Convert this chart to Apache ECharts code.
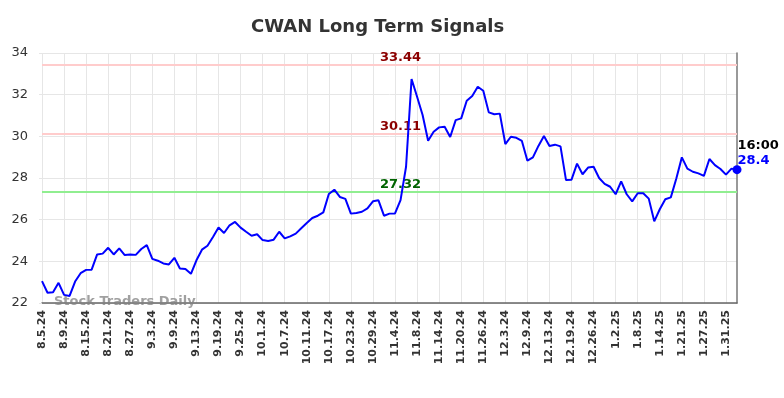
<!DOCTYPE html>
<html>
<head>
<meta charset="utf-8">
<title>CWAN Long Term Signals</title>
<script src="https://cdn.jsdelivr.net/npm/echarts@6/dist/echarts.min.js"></script>
<style>
  html, body { margin: 0; padding: 0; background: #fff; }
  #chart { width: 784px; height: 398px; }
</style>
</head>
<body>
<div id="chart"></div>
<script>
// trading days shown on the x axis (every 4th one gets a label)
const dates = [
  '8.5.24', '8.6.24', '8.7.24', '8.8.24', '8.9.24', '8.12.24', '8.13.24', '8.14.24', '8.15.24', '8.16.24',
  '8.19.24', '8.20.24', '8.21.24', '8.22.24', '8.23.24', '8.26.24', '8.27.24', '8.28.24', '8.29.24', '8.30.24',
  '9.3.24', '9.4.24', '9.5.24', '9.6.24', '9.9.24', '9.10.24', '9.11.24', '9.12.24', '9.13.24', '9.16.24',
  '9.17.24', '9.18.24', '9.19.24', '9.20.24', '9.23.24', '9.24.24', '9.25.24', '9.26.24', '9.27.24', '9.30.24',
  '10.1.24', '10.2.24', '10.3.24', '10.4.24', '10.7.24', '10.8.24', '10.9.24', '10.10.24', '10.11.24', '10.14.24',
  '10.15.24', '10.16.24', '10.17.24', '10.18.24', '10.21.24', '10.22.24', '10.23.24', '10.24.24', '10.25.24', '10.28.24',
  '10.29.24', '10.30.24', '10.31.24', '11.1.24', '11.4.24', '11.5.24', '11.6.24', '11.7.24', '11.8.24', '11.11.24',
  '11.12.24', '11.13.24', '11.14.24', '11.15.24', '11.18.24', '11.19.24', '11.20.24', '11.21.24', '11.22.24', '11.25.24',
  '11.26.24', '11.27.24', '11.29.24', '12.2.24', '12.3.24', '12.4.24', '12.5.24', '12.6.24', '12.9.24', '12.10.24',
  '12.11.24', '12.12.24', '12.13.24', '12.16.24', '12.17.24', '12.18.24', '12.19.24', '12.20.24', '12.23.24', '12.24.24',
  '12.26.24', '12.27.24', '12.30.24', '12.31.24', '1.2.25', '1.3.25', '1.6.25', '1.7.25', '1.8.25', '1.9.25',
  '1.10.25', '1.13.25', '1.14.25', '1.15.25', '1.16.25', '1.17.25', '1.21.25', '1.22.25', '1.23.25', '1.24.25',
  '1.27.25', '1.28.25', '1.29.25', '1.30.25', '1.31.25', '2.3.25', '2.4.25'
];

// closing prices
const prices = [
  23.05, 22.49, 22.52, 22.97, 22.39, 22.34, 23.03, 23.43, 23.59, 23.6,
  24.33, 24.37, 24.65, 24.33, 24.62, 24.3, 24.33, 24.31, 24.59, 24.78,
  24.12, 24.03, 23.9, 23.85, 24.17, 23.66, 23.63, 23.4, 24.05, 24.56,
  24.75, 25.17, 25.62, 25.36, 25.73, 25.89, 25.62, 25.42, 25.23, 25.3,
  25.02, 24.98, 25.04, 25.42, 25.1, 25.2, 25.33, 25.59, 25.84, 26.08,
  26.19, 26.35, 27.23, 27.44, 27.09, 27.0, 26.29, 26.32, 26.38, 26.54,
  26.88, 26.93, 26.19, 26.29, 26.3, 26.94, 28.54, 32.75, 31.9, 31.02,
  29.79, 30.22, 30.43, 30.46, 29.97, 30.78, 30.86, 31.71, 31.94, 32.38,
  32.19, 31.15, 31.06, 31.09, 29.63, 29.98, 29.93, 29.78, 28.83, 28.99,
  29.54, 30.02, 29.54, 29.6, 29.52, 27.9, 27.92, 28.69, 28.18, 28.5,
  28.54, 28.0, 27.72, 27.58, 27.22, 27.84, 27.22, 26.88, 27.27, 27.27,
  27.01, 25.92, 26.5, 26.98, 27.07, 27.98, 28.99, 28.45, 28.3, 28.22,
  28.1, 28.91, 28.62, 28.43, 28.16, 28.45, 28.4
];

// signal levels
const resistanceLevels = [33.44, 30.11];
const supportLevels = [27.32];
const yTicks = [22, 24, 26, 28, 30, 32, 34];
const lastTime = '16:00';

const font = 'DejaVu Sans';
const labelDate = dates[65];
const lastIdx = prices.length - 1;

const levelLines = [];
const levelLabels = [];
resistanceLevels.forEach(v => {
  levelLines.push({ yAxis: v, lineStyle: { color: '#ffcccc', width: 2, type: 'solid' } });
  levelLabels.push({ coord: [labelDate, v], label: { color: '#8b0000', formatter: v.toFixed(2) } });
});
supportLevels.forEach(v => {
  levelLines.push({ yAxis: v, lineStyle: { color: '#90ee90', width: 2, type: 'solid' } });
  levelLabels.push({ coord: [labelDate, v], label: { color: '#006400', formatter: v.toFixed(2) } });
});

const chart = echarts.init(document.getElementById('chart'));

const option = {
  animation: false,
  title: {
    text: 'CWAN Long Term Signals',
    left: 246,
    top: 13,
    textStyle: { fontFamily: font, fontSize: 18, fontWeight: 'bold', color: '#333' }
  },
  grid: { left: 42, right: 47, top: 53, bottom: 95 },
  xAxis: {
    type: 'category',
    data: dates,
    boundaryGap: false,
    axisLine: { lineStyle: { color: '#666', width: 1.5 } },
    axisTick: { show: false },
    axisLabel: {
      interval: 3,
      rotate: 90,
      margin: 7,
      fontFamily: font,
      fontSize: 11,
      fontWeight: 'bold',
      color: '#333'
    },
    splitLine: { show: true, interval: 3, lineStyle: { color: '#e6e6e6', width: 1 } }
  },
  yAxis: [
    {
      type: 'value',
      min: yTicks[0],
      max: yTicks[yTicks.length - 1],
      interval: 2,
      axisLine: { show: false },
      axisTick: { show: true, length: 3, lineStyle: { color: '#e6e6e6' } },
      axisLabel: { margin: 14, fontFamily: font, fontSize: 13, color: '#333' },
      splitLine: { lineStyle: { color: '#e6e6e6', width: 1 } }
    },
    {
      type: 'value',
      position: 'right',
      min: yTicks[0],
      max: yTicks[yTicks.length - 1],
      interval: 2,
      axisLine: { show: true, lineStyle: { color: '#777', width: 1.5 } },
      axisTick: { show: false },
      axisLabel: { show: false },
      splitLine: { show: false }
    }
  ],
  series: [
    {
      type: 'line',
      data: prices,
      symbol: 'none',
      lineStyle: { color: '#0000ff', width: 2 },
      z: 5,
      markLine: {
        silent: true,
        symbol: 'none',
        label: { show: false },
        data: levelLines,
        z: 2
      },
      markPoint: {
        silent: true,
        symbol: 'circle',
        symbolSize: 0,
        label: {
          show: true,
          position: 'top',
          distance: 1,
          fontFamily: font,
          fontSize: 13,
          fontWeight: 'bold'
        },
        data: levelLabels.concat([
          {
            coord: [dates[lastIdx], prices[lastIdx]],
            symbolSize: 9,
            itemStyle: { color: '#0000ff' },
            label: {
              position: [5, -27],
              align: 'left',
              verticalAlign: 'top',
              lineHeight: 15,
              formatter: '{t|' + lastTime + '}\n{v|' + prices[lastIdx] + '}',
              rich: {
                t: { color: '#000', fontFamily: font, fontSize: 13, fontWeight: 'bold', lineHeight: 15 },
                v: { color: '#0000ff', fontFamily: font, fontSize: 13, fontWeight: 'bold', lineHeight: 15 }
              }
            }
          }
        ])
      }
    }
  ],
  graphic: [
    {
      type: 'text',
      left: 54,
      top: 295,
      z: 100,
      style: {
        text: 'Stock Traders Daily',
        fontFamily: font,
        fontSize: 13,
        fontWeight: 'bold',
        fill: 'rgba(128,128,128,0.75)'
      }
    }
  ]
};

chart.setOption(option);
</script>
</body>
</html>
